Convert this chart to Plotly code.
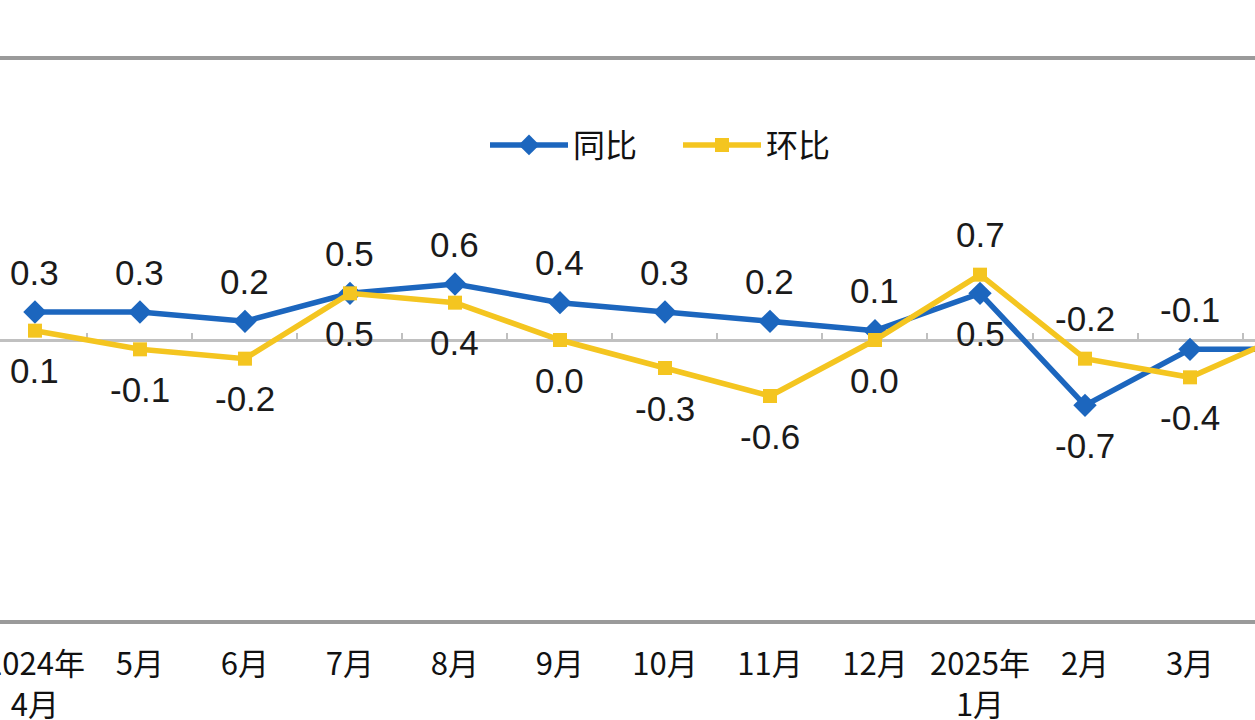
import plotly.graph_objects as go

categories = ["2024年<br>4月", "5月", "6月", "7月", "8月", "9月", "10月", "11月", "12月",
              "2025年<br>1月", "2月", "3月", "4月"]
yoy = [0.3, 0.3, 0.2, 0.5, 0.6, 0.4, 0.3, 0.2, 0.1, 0.5, -0.7, -0.1, -0.1]
mom = [0.1, -0.1, -0.2, 0.5, 0.4, 0.0, -0.3, -0.6, 0.0, 0.7, -0.2, -0.4, 0.1]

BLUE = "#1C66BE"
YELLOW = "#F4C520"
NUM_FONT = "Liberation Sans, Arial, sans-serif"
CJK_FONT = "Noto Sans CJK SC, sans-serif"

fig = go.Figure()
fig.add_trace(go.Scatter(
    x=categories, y=yoy, name="同比", mode="lines+markers",
    line=dict(color=BLUE, width=5.5),
    marker=dict(symbol="diamond", size=18, color=BLUE),
))
fig.add_trace(go.Scatter(
    x=categories, y=mom, name="环比", mode="lines+markers",
    line=dict(color=YELLOW, width=5.5),
    marker=dict(symbol="square", size=14, color=YELLOW),
))
# invisible trace to carry the zero-axis with tick marks
fig.add_trace(go.Scatter(x=categories, y=[0] * len(categories), xaxis="x2",
                         mode="none", showlegend=False, hoverinfo="skip"))

annotations = []
for i, c in enumerate(categories):
    a, b = yoy[i], mom[i]
    a_up = a >= b
    for val, up in ((a, a_up), (b, not a_up)):
        annotations.append(dict(
            x=c, y=val, xref="x", yref="y", text=f"{val:.1f}", showarrow=False,
            yshift=40 if up else -40,
            font=dict(family=NUM_FONT, size=35, color="#1a1a1a"),
        ))

xr = [-0.333, 11.619]
fig.update_layout(
    width=1255, height=720,
    margin=dict(l=0, r=0, t=60, b=100, pad=0),
    paper_bgcolor="white", plot_bgcolor="white",
    showlegend=True,
    legend=dict(orientation="h", x=485 / 1255, xanchor="left", y=0.848, yanchor="middle",
                font=dict(family=CJK_FONT, size=32, color="#111"),
                bgcolor="rgba(0,0,0,0)", itemwidth=78, entrywidth=100,
                tracegroupgap=0),
    annotations=annotations,
    xaxis=dict(type="category", categoryorder="array", categoryarray=categories,
               range=xr, showline=True, mirror=True, linecolor="#9a9a9a", linewidth=4,
               showgrid=False, ticks="", ticklabelstandoff=14, automargin=False,
               tickfont=dict(family=CJK_FONT, size=31, color="#111")),
    xaxis2=dict(type="category", categoryorder="array", categoryarray=categories,
                range=xr, overlaying="x", anchor="free", position=0.5,
                showline=True, linecolor="#c0c0c0", linewidth=3, layer="below traces",
                ticks="inside", tickson="boundaries", ticklen=6, tickwidth=2,
                tickcolor="#c0c0c0", showticklabels=False, showgrid=False,
                automargin=False),
    yaxis=dict(range=[-3, 3], showgrid=False, zeroline=False, showticklabels=False,
               showline=False, ticks="", automargin=False),
)

fig.write_html("out.html", config={"displayModeBar": False},
               post_script="document.body.style.margin='0';document.body.style.overflow='hidden';")
